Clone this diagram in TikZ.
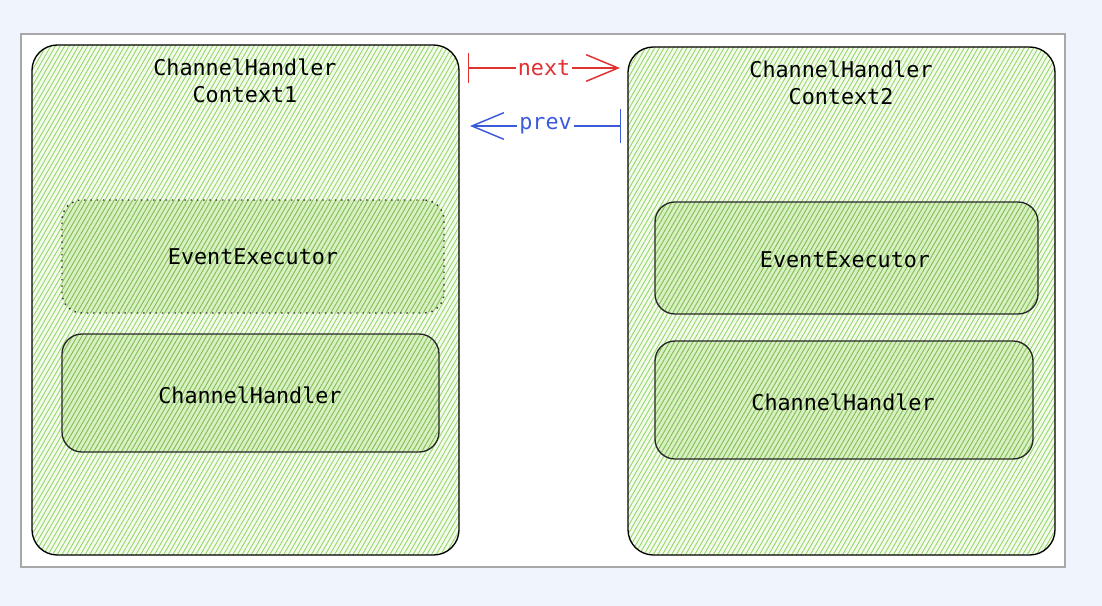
\documentclass[tikz,border=0pt]{standalone}
\usepackage{fontspec}
\setmonofont{DejaVu Sans Mono}
\usetikzlibrary{fit,patterns.meta,arrows.meta}
\definecolor{bg}{HTML}{F0F4FD}
\definecolor{panelgray}{HTML}{A8A8A8}
\definecolor{hline}{HTML}{8FD45E}
\definecolor{hfill}{HTML}{F3FBEC}
\definecolor{infill}{HTML}{D9F0C3}
\definecolor{nextred}{HTML}{E03131}
\definecolor{prevblue}{HTML}{3B5BDB}
\begin{document}
\begin{tikzpicture}[x=0.75pt,y=-0.75pt,
  txt/.style={font=\ttfamily\fontsize{16.3}{20.3}\selectfont, text=black},
  ctxbox/.style={draw=black, line width=1pt, rounded corners=19pt, inner sep=0pt,
    preaction={fill=hfill},
    pattern={Lines[angle=60,distance=3pt,line width=0.6pt]}, pattern color=hline},
  innerbox/.style={line width=1pt, rounded corners=15pt, inner sep=0pt,
    preaction={fill=infill},
    pattern={Lines[angle=60,distance=3pt,line width=0.7pt]}, pattern color=hline!90!black},
  solidbox/.style={innerbox, draw=black!85},
  dotbox/.style={innerbox, postaction={draw=black!80, line width=1.1pt, dash pattern=on 1.1pt off 3.6pt}},
  lbl/.style={font=\ttfamily\fontsize{16.3}{20}\selectfont, fill=white, inner sep=1.5pt},
  nextarrow/.style={draw=nextred, line width=1.1pt, {Bar[width=22pt]}-{Straight Barb[length=24pt,width=20pt]}},
  prevarrow/.style={draw=prevblue, line width=1.1pt, {Straight Barb[length=24pt,width=20pt]}-{Bar[width=25pt]}}
]
\useasboundingbox (0,0) rectangle (1102,606);
\fill[bg] (0,0) rectangle (1102,606);
\draw[panelgray, line width=1.1pt, fill=white] (21,34) rectangle (1065,567);

% context boxes
\node[ctxbox, fit={(32,45) (459,555)}] (ctx1) {};
\node[ctxbox, fit={(628,47) (1055,555)}] (ctx2) {};
\node[txt, align=center] (t1) at (245,80.5) {ChannelHandler\\Context1};
\node[txt, align=center] (t2) at (841,82.5) {ChannelHandler\\Context2};

% inner boxes
\node[dotbox, fit={(62,200) (444,313)}] (ee1) {};
\node[txt] (ee1t) at (253,257) {EventExecutor};
\node[solidbox, fit={(62,334) (439,452)}] (ch1) {};
\node[txt] (ch1t) at (250,395) {ChannelHandler};
\node[solidbox, fit={(655,202) (1038,314)}] (ee2) {};
\node[txt] (ee2t) at (845,260) {EventExecutor};
\node[solidbox, fit={(655,341) (1033,459)}] (ch2) {};
\node[txt] (ch2t) at (843,402) {ChannelHandler};

% connectors
\coordinate (n1) at (468,68);
\coordinate (n2) at (620,68);
\coordinate (p1) at (621,126);
\coordinate (p2) at (470,126);
\draw[nextarrow] (n1) -- node[lbl, text=nextred] (nl) {next} (n2);
\draw[prevarrow] (p2) -- node[lbl, text=prevblue] (pl) {prev} (p1);
\end{tikzpicture}
\end{document}
